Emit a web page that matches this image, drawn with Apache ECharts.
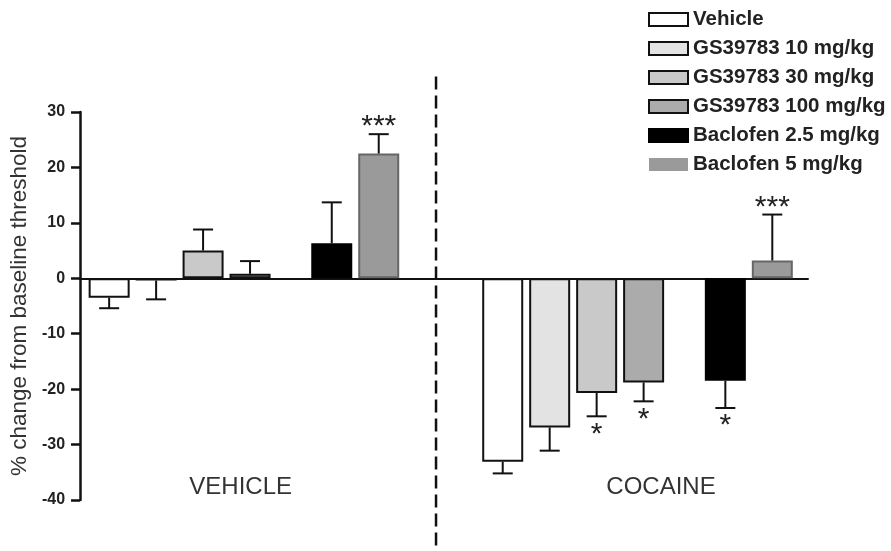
<!DOCTYPE html>
<html>
<head>
<meta charset="utf-8">
<script src="https://cdn.jsdelivr.net/npm/echarts@6/dist/echarts.min.js"></script>
<style>
  html, body { margin: 0; padding: 0; background: #fff; }
  #chart { width: 891px; height: 551px; }
</style>
</head>
<body>
<div id="chart"></div>
<script>
// treatments (series) and the two test groups
var treatments = ['Vehicle', 'GS39783 10 mg/kg', 'GS39783 30 mg/kg', 'GS39783 100 mg/kg', 'Baclofen 2.5 mg/kg', 'Baclofen 5 mg/kg']
var groups = ['VEHICLE', 'COCAINE']

// mean % change from baseline threshold, per treatment
var vehicleMean = [-3.5, -0.4, 5.0, 0.8, 6.3, 22.5]
var cocaineMean = [-33.1, -26.9, -20.7, -18.8, -18.5, 3.2]

// SEM, per treatment
var vehicleSem = [1.9, 3.4, 3.8, 2.3, 7.4, 3.5]
var cocaineSem = [2.1, 4.2, 4.2, 3.4, 4.9, 8.3]

// significance marks
var vehicleSig = ['', '', '', '', '', '***']
var cocaineSig = ['', '', '*', '*', '*', '***']

var yTicks = [-40, -30, -20, -10, 0, 10, 20, 30]

// layout (axis units on the hidden x axis)
var groupStart = [0.62, 9.0]
var slotOffset = [0, 1, 2, 3, 4.74, 5.74]
var groupLabelX = [3.42, 12.37]
var dividerX = 7.58

var fills = ['#ffffff', '#e3e3e3', '#c9c9c9', '#ababab', '#000000', '#9a9a9a']
var borders = ['#111', '#111', '#111', '#111', '#000', '#666']
var FONT = '"Liberation Sans", Arial, Helvetica, sans-serif'

var chart = echarts.init(document.getElementById('chart'))

var means = [vehicleMean, cocaineMean]
var sems = [vehicleSem, cocaineSem]
var sigs = [vehicleSig, cocaineSig]

var barSeries = treatments.map(function (name, i) {
  return {
    name: name,
    type: 'bar',
    barWidth: 41,
    barGap: '-100%',
    itemStyle: { color: fills[i], borderColor: borders[i], borderWidth: 2 },
    data: groups.map(function (g, gi) {
      return [groupStart[gi] + slotOffset[i], means[gi][i]]
    }),
    z: 2
  }
})

var errData = []
var errSig = []
groups.forEach(function (g, gi) {
  treatments.forEach(function (t, i) {
    errData.push([groupStart[gi] + slotOffset[i], means[gi][i], sems[gi][i]])
    errSig.push(sigs[gi][i])
  })
})

var errSeries = {
  type: 'custom',
  data: errData,
  z: 3,
  silent: true,
  renderItem: function (params, api) {
    var x = api.value(0), v = api.value(1), e = api.value(2)
    var up = v >= 0
    var end = up ? v + e : v - e
    var p0 = api.coord([x, v])
    var p1 = api.coord([x, end])
    var children = [
      { type: 'line', shape: { x1: p0[0], y1: p0[1], x2: p1[0], y2: p1[1] }, style: { stroke: '#111', lineWidth: 2 } },
      { type: 'line', shape: { x1: p1[0] - 10, y1: p1[1], x2: p1[0] + 10, y2: p1[1] }, style: { stroke: '#111', lineWidth: 2 } }
    ]
    var s = errSig[params.dataIndex]
    if (s) {
      children.push({
        type: 'text',
        style: {
          text: s, x: p1[0], y: up ? p1[1] - 7 : p1[1] + 18,
          align: 'center', verticalAlign: 'middle',
          font: '30px ' + FONT, fill: '#222'
        }
      })
    }
    return { type: 'group', children: children }
  }
}

var groupLabelSeries = {
  type: 'custom',
  data: groups.map(function (g, gi) { return [groupLabelX[gi], -37.8] }),
  silent: true,
  renderItem: function (params, api) {
    var p = api.coord([api.value(0), api.value(1)])
    return {
      type: 'text',
      style: {
        text: groups[params.dataIndex], x: p[0], y: p[1],
        align: 'center', verticalAlign: 'middle',
        font: '24px ' + FONT, fill: '#333'
      }
    }
  }
}

var dividerSeries = {
  type: 'custom',
  data: [[dividerX]],
  silent: true,
  clip: false,
  renderItem: function (params, api) {
    var top = api.coord([api.value(0), 36.4])
    var bot = api.coord([api.value(0), -49.5])
    return {
      type: 'line',
      shape: { x1: top[0], y1: top[1], x2: bot[0], y2: bot[1] },
      style: { stroke: '#111', lineWidth: 2.5, lineDash: [13, 6] }
    }
  }
}

chart.setOption({
  animation: false,
  backgroundColor: '#fff',
  grid: { left: 80, right: 83, top: 112, bottom: 51 },
  legend: {
    orient: 'vertical',
    left: 648,
    top: 9,
    padding: 0,
    itemWidth: 39,
    itemHeight: 13,
    itemGap: 8,
    icon: 'rect',
    textStyle: { fontFamily: FONT, fontSize: 20.5, fontWeight: 'bold', color: '#222' },
    data: treatments.map(function (t, i) {
      return { name: t, itemStyle: { borderWidth: i === 5 ? 0 : 2 } }
    })
  },
  xAxis: {
    type: 'value',
    min: 0,
    max: 15.5,
    axisLine: { onZero: true, lineStyle: { color: '#111', width: 2 } },
    axisTick: { show: false },
    axisLabel: { show: false },
    splitLine: { show: false }
  },
  yAxis: {
    type: 'value',
    min: yTicks[0],
    max: yTicks[yTicks.length - 1],
    interval: 10,
    name: '% change from baseline threshold',
    nameLocation: 'middle',
    nameRotate: 90,
    nameGap: 43,
    nameTextStyle: { fontFamily: FONT, fontSize: 22.5, color: '#333' },
    axisLine: { show: true, lineStyle: { color: '#111', width: 2.5 } },
    axisTick: { show: true, inside: false, length: 9, lineStyle: { color: '#111', width: 2.5 } },
    axisLabel: { fontFamily: FONT, fontSize: 16, fontWeight: 'bold', color: '#222', margin: 15 },
    splitLine: { show: false }
  },
  series: barSeries.concat([errSeries, groupLabelSeries, dividerSeries])
})
</script>
</body>
</html>
